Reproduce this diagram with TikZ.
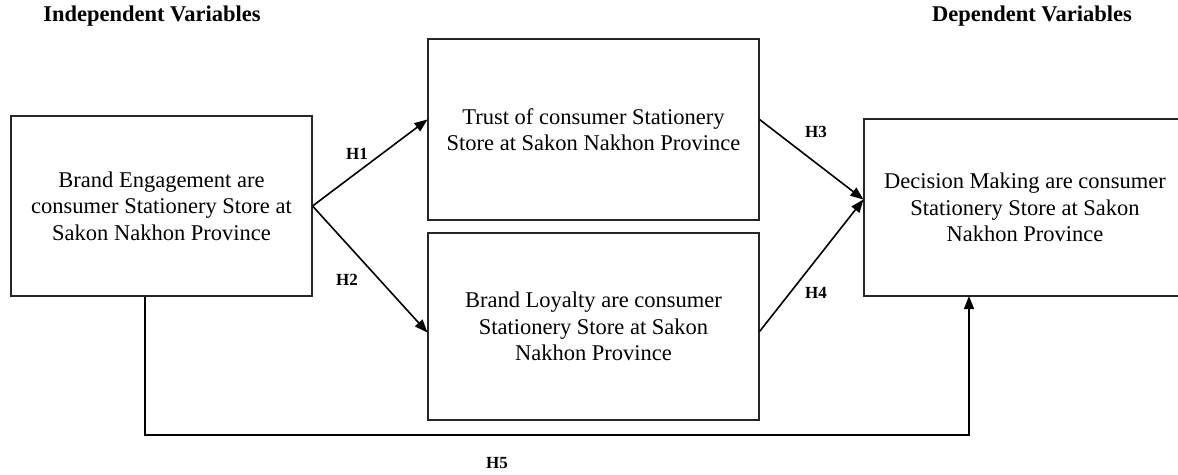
\documentclass[tikz,border=0pt]{standalone}
\usepackage{fontspec}
\setmainfont{Liberation Serif}
\usetikzlibrary{arrows.meta,calc}
\begin{document}
\begin{tikzpicture}[x=1pt,y=-1pt,
  vbox/.style={draw=black!85,line width=1.1pt,align=center,inner sep=0pt,
    font=\fontsize{22.5}{26.5}\selectfont},
  arr/.style={line width=1.6pt,-{Triangle[length=13pt,width=10pt]}},
  hlab/.style={font=\fontsize{17}{20}\selectfont\bfseries},
  ttl/.style={font=\fontsize{22.5}{26}\selectfont\bfseries}]
\useasboundingbox (0,0) rectangle (1178,474);
\node[vbox,minimum width=301pt,minimum height=180pt] (L) at (161.5,206) {Brand Engagement are\\consumer Stationery Store at\\Sakon Nakhon Province};
\node[vbox,minimum width=331pt,minimum height=181pt] (T) at (593.5,129.5) {Trust of consumer Stationery\\Store at Sakon Nakhon Province};
\node[vbox,minimum width=331pt,minimum height=187pt] (B) at (593.5,326.5) {Brand Loyalty are consumer\\Stationery Store at Sakon\\Nakhon Province};
\node[vbox,minimum width=316pt,minimum height=177pt] (R) at (1022,207.5) {\hspace*{6pt}Decision Making are consumer\\\hspace*{6pt}Stationery Store at Sakon\\\hspace*{6pt}Nakhon Province};
\node[ttl] (t1) at (152,16) {Independent Variables};
\node[ttl] (t2) at (1032,16) {Dependent Variables};
\coordinate (h1e) at ($(T.west)+(0,-10)$);
\coordinate (h2e) at ($(B.west)+(0,6)$);
\coordinate (h3s) at ($(T.east)+(0,-10)$);
\coordinate (h4s) at ($(B.east)+(0,5)$);
\coordinate (re) at ($(R.west)+(0,-8)$);
\coordinate (h5c) at (145,435);
\coordinate (h5t) at (969,296);
\draw[arr] (L.east) -- (h1e);
\draw[arr] (L.east) -- (h2e);
\draw[arr] (h3s) -- (re);
\draw[arr] (h4s) -- (re);
\draw[arr] (L.south -| h5c) -- (h5c) -- (h5c -| h5t) -- (h5t);
\node[hlab] (H1) at (357,154) {H1};
\node[hlab] (H2) at (347,280) {H2};
\node[hlab] (H3) at (816,132) {H3};
\node[hlab] (H4) at (816,293) {H4};
\node[hlab] (H5) at (497,463) {H5};
\end{tikzpicture}
\end{document}
